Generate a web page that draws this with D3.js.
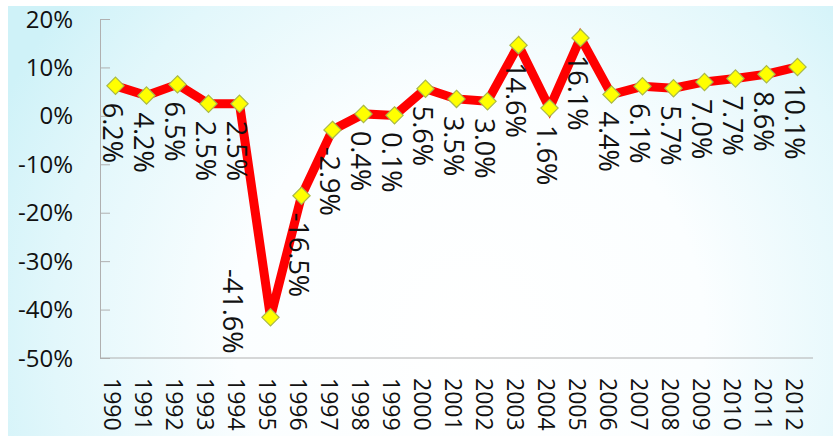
<!DOCTYPE html>
<html>
<head>
<meta charset="utf-8">
<script src="https://cdn.jsdelivr.net/npm/d3@7"></script>
<style>
  html, body { margin: 0; padding: 0; background: #ffffff; }
  svg { display: block; }
  text { font-family: "Open Sans", "Noto Sans", sans-serif; fill: #111; }
</style>
</head>
<body>
<svg id="chart" width="833" height="438"></svg>
<script>
// Annual growth rate, 1990–2012
const years = ["1990","1991","1992","1993","1994","1995","1996","1997","1998","1999","2000","2001",
               "2002","2003","2004","2005","2006","2007","2008","2009","2010","2011","2012"];
const growth = [6.2, 4.2, 6.5, 2.5, 2.5, -41.6, -16.5, -2.9, 0.4, 0.1, 5.6, 3.5,
                3.0, 14.6, 1.6, 16.1, 4.4, 6.1, 5.7, 7.0, 7.7, 8.6, 10.1];
const yTicks = [20, 10, 0, -10, -20, -30, -40, -50];

// labels that sit to the left of their marker instead of below it
const leftLabelYears = new Set(["1995"]);

const svg = d3.select("#chart");
const W = 833, H = 438;
const plot = { left: 100, right: 813, top: 19, bottom: 358 };

// soft cyan backdrop fading to white toward the lower middle
const defs = svg.append("defs");
const grad = defs.append("radialGradient")
  .attr("id", "bg")
  .attr("gradientUnits", "userSpaceOnUse")
  .attr("cx", 470).attr("cy", 330).attr("r", 520)
  .attr("fx", 470).attr("fy", 330);
grad.append("stop").attr("offset", "0").attr("stop-color", "#ffffff");
grad.append("stop").attr("offset", "0.45").attr("stop-color", "#fbfeff");
grad.append("stop").attr("offset", "0.8").attr("stop-color", "#e2f7fb");
grad.append("stop").attr("offset", "1").attr("stop-color", "#cff2f8");

svg.append("rect")
  .attr("x", 8).attr("y", 6).attr("width", W - 8).attr("height", H - 8)
  .attr("fill", "url(#bg)");

const x = d3.scalePoint().domain(years).range([plot.left, plot.right]).padding(0.5);
const y = d3.scaleLinear().domain([-50, 20]).range([plot.bottom, plot.top]);

// y axis with inward ticks
const yAxis = d3.axisRight(y).tickValues(yTicks).tickSize(10).tickFormat("");
const gy = svg.append("g").attr("transform", `translate(${plot.left},0)`).call(yAxis);
gy.selectAll("path, line").attr("stroke", "#b0b0b0").attr("stroke-width", 1);

svg.append("g").selectAll("text").data(yTicks).join("text")
  .attr("x", 73)
  .attr("y", d => y(d))
  .attr("dy", "0.36em")
  .attr("text-anchor", "end")
  .attr("font-size", 24)
  .text(d => d + "%");

// x axis baseline
const xAxis = d3.axisBottom(x).tickSize(0).tickFormat("");
const gx = svg.append("g").attr("transform", `translate(0,${plot.bottom})`).call(xAxis);
gx.select("path").attr("stroke", "#b0b0b0").attr("stroke-width", 1)
  .attr("d", `M${plot.left},0H${plot.right}`);

// vertical year labels
svg.append("g").selectAll("text").data(years).join("text")
  .attr("transform", d => `translate(${x(d) - 3},${plot.bottom + 20}) rotate(90)`)
  .attr("dy", "0.35em")
  .attr("font-size", 23)
  .text(d => d);

// growth line
const line = d3.line().x((d, i) => x(years[i])).y(d => y(d));
svg.append("path")
  .datum(growth)
  .attr("d", line)
  .attr("fill", "none")
  .attr("stroke", "#ff0000")
  .attr("stroke-width", 9)
  .attr("stroke-linejoin", "miter")
  .attr("stroke-miterlimit", 3);

// diamond markers
const diamond = d3.symbol().type(d3.symbolDiamond2).size(190);
svg.append("g").selectAll("path").data(growth).join("path")
  .attr("d", diamond)
  .attr("transform", (d, i) => `translate(${x(years[i])},${y(d)})`)
  .attr("fill", "#ffff00")
  .attr("stroke", "#a8b848")
  .attr("stroke-width", 1.2);

// value labels, rotated to read downward
svg.append("g").selectAll("text").data(growth).join("text")
  .attr("transform", (d, i) => {
    const px = x(years[i]), py = y(d);
    return leftLabelYears.has(years[i])
      ? `translate(${px - 38},${py - 6}) rotate(90)`
      : `translate(${px - 3},${py + 17}) rotate(90)`;
  })
  .attr("text-anchor", (d, i) => leftLabelYears.has(years[i]) ? "middle" : "start")
  .attr("dy", "0.35em")
  .attr("font-size", 27)
  .text(d => d.toFixed(1) + "%");
</script>
</body>
</html>
